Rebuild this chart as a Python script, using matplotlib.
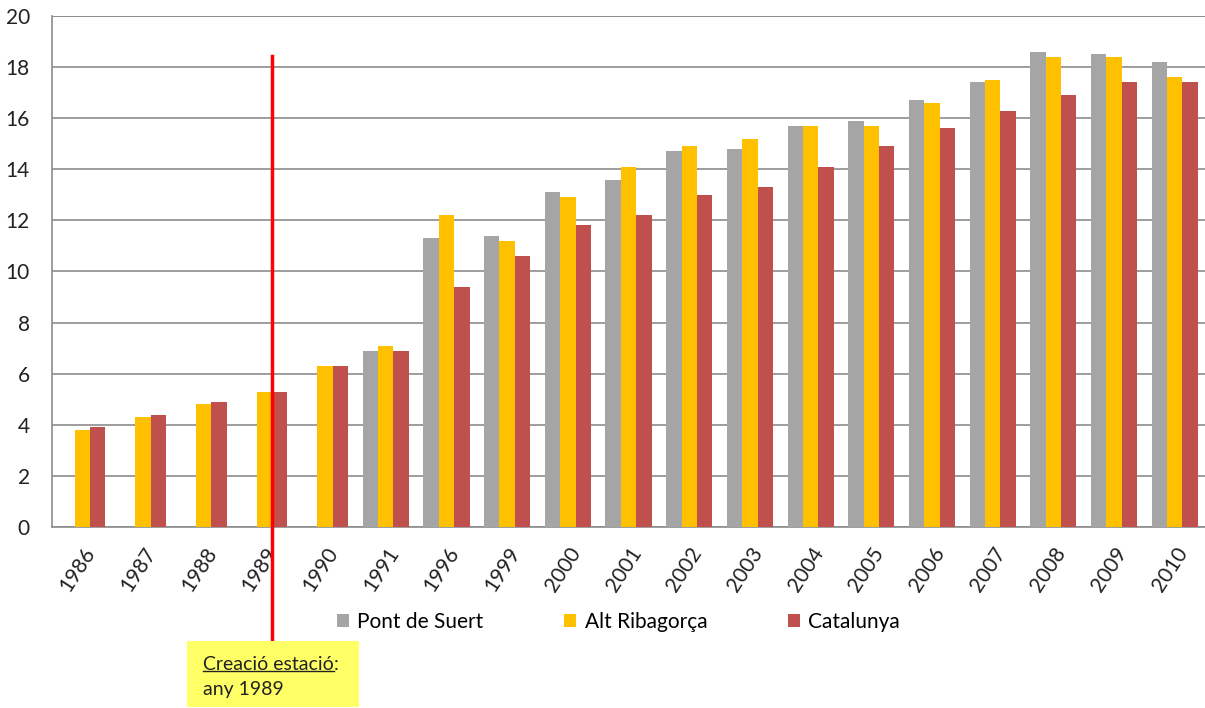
import numpy as np
import matplotlib
matplotlib.use('Agg')
import matplotlib.pyplot as plt
from matplotlib.patches import Rectangle

plt.rcParams['font.family'] = ['Lato', 'DejaVu Sans']

years = ['1986', '1987', '1988', '1989', '1990', '1991', '1996', '1999', '2000',
         '2001', '2002', '2003', '2004', '2005', '2006', '2007', '2008', '2009', '2010']
pont = [np.nan, np.nan, np.nan, np.nan, np.nan, 6.9, 11.3, 11.4, 13.1,
        13.6, 14.7, 14.8, 15.7, 15.9, 16.7, 17.4, 18.6, 18.5, 18.2]
alt = [3.8, 4.3, 4.8, 5.3, 6.3, 7.1, 12.2, 11.2, 12.9,
       14.1, 14.9, 15.2, 15.7, 15.7, 16.6, 17.5, 18.4, 18.4, 17.6]
cat = [3.9, 4.4, 4.9, 5.3, 6.3, 6.9, 9.4, 10.6, 11.8,
       12.2, 13.0, 13.3, 14.1, 14.9, 15.6, 16.3, 16.9, 17.4, 17.4]
names = ['Pont de Suert', 'Alt Ribagorça', 'Catalunya']
colors = ['#A5A5A5', '#FFC000', '#C0504D']

fig = plt.figure(figsize=(12.05, 7.08), dpi=100)
ax = fig.add_axes([0.0432, 0.2557, 0.9568, 0.7217])

x = np.arange(len(years))
w = 0.253
for k, (vals, c, n) in enumerate(zip([pont, alt, cat], colors, names)):
    ax.bar(x + (k - 1) * w, vals, w, color=c, label=n, zorder=3)

ax.set_xlim(-0.5, len(years) - 0.5)
ax.set_ylim(0, 20)
ax.set_yticks(range(0, 21, 2))
ax.yaxis.grid(True, color='#8C8C8C', linewidth=1.2, zorder=0)
ax.tick_params(axis='both', length=0, labelsize=15, colors='#222222')
ax.tick_params(axis='y', pad=16)
ax.set_xticks(x)
ax.set_xticklabels(years, rotation=57, ha='right', rotation_mode='anchor')
ax.tick_params(axis='x', pad=12)
for s in ['top', 'right']:
    ax.spines[s].set_visible(False)
for s in ['left', 'bottom']:
    ax.spines[s].set_color('#8C8C8C')
    ax.spines[s].set_linewidth(1.2)

# top border line at 20
ax.axhline(20, color='#8C8C8C', linewidth=1.2, zorder=0)

# station creation marker
ax.plot([3.12, 3.12], [18.45, -4.5], color='#FF0000', linewidth=2.5,
        clip_on=False, zorder=5)

leg = ax.legend(loc='upper left', bbox_to_anchor=(0.2305, -0.13), ncol=3,
                frameon=False, fontsize=15, handlelength=0.6, handleheight=0.6,
                handletextpad=0.4, columnspacing=3.85)

# annotation box
fig.patches.append(Rectangle((187 / 1205, 1 - 707 / 708), 172 / 1205, 66 / 708,
                             transform=fig.transFigure, facecolor='#FFFF66',
                             edgecolor='none', zorder=4))
t1 = fig.text(203 / 1205, 1 - 665 / 708, 'Creació estació', fontsize=14,
              va='center', color='#222222', zorder=6)
fig.text(203 / 1205, 1 - 690 / 708, 'any 1989', fontsize=14, va='center',
         color='#222222', zorder=6)
fig.canvas.draw()
bb = t1.get_window_extent()
inv = fig.transFigure.inverted()
(x0, y0), (x1, y1) = inv.transform([[bb.x0, bb.y0], [bb.x1, bb.y1]])
fig.add_artist(plt.Line2D([x0, x1], [y0 + 0.003, y0 + 0.003], color='#222222',
                          linewidth=1, transform=fig.transFigure, zorder=6))
fig.text(x1, 1 - 665 / 708, ':', fontsize=14, va='center', color='#222222',
         zorder=6)

fig.savefig('out.png', dpi=100)
